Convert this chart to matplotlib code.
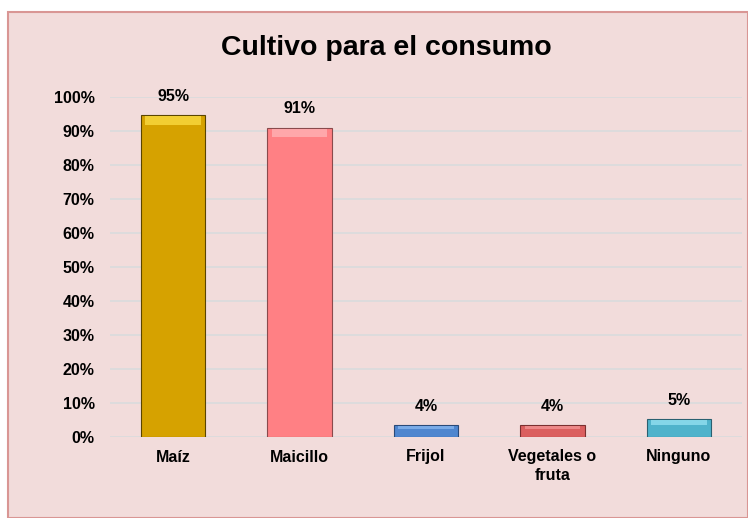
import matplotlib.pyplot as plt
import matplotlib.patches as mpatches
from matplotlib.ticker import FuncFormatter

categories = ["Maíz", "Maicillo", "Frijol", "Vegetales o\nfruta", "Ninguno"]
values = [94.6, 91.0, 3.6, 3.6, 5.4]
labels = ["95%", "91%", "4%", "4%", "5%"]
colors = ["#D6A200", "#FF8084", "#4F86CF", "#DB5F5F", "#4FB3CB"]
highlights = ["#FFE24A", "#FFB8BB", "#8DBBF2", "#F59A9A", "#9CE6F5"]
edges = ["#5A4500", "#8A4A4C", "#2A4A78", "#7A3030", "#2A6070"]

plt.rcParams['font.family'] = ['Liberation Sans', 'DejaVu Sans']

fig = plt.figure(figsize=(7.48, 5.18), dpi=100)
fig.patch.set_facecolor("white")
bg = mpatches.Rectangle((8 / 748, 0), 1 - 8 / 748, 1 - 12 / 518, transform=fig.transFigure,
                        facecolor="#F2DCDB", edgecolor="#D99694", linewidth=1.5, zorder=-5)
fig.patches.append(bg)

ax = fig.add_axes([110 / 748, 1 - 437 / 518, 632 / 748, 340 / 518])
ax.set_facecolor("none")

x = range(len(categories))
ax.bar(x, values, width=0.51, color=colors, edgecolor=edges, linewidth=0.8, zorder=3)
# bevel highlight near the top of each bar
cap = [min(v * 0.3, 2.4) for v in values]
ax.bar(x, cap, bottom=[v - c - 0.3 for v, c in zip(values, cap)], width=0.44,
       color=highlights, linewidth=0, alpha=0.7, zorder=4)

for i, (v, lab) in enumerate(zip(values, labels)):
    ax.annotate(lab, (i, v), xytext=(0, 8), textcoords="offset points",
                ha="center", va="bottom", fontsize=11.5, fontweight="bold")

ax.set_ylim(0, 100)
ax.set_xlim(-0.5, len(categories) - 0.5)
ax.set_yticks(range(0, 101, 10))
ax.yaxis.set_major_formatter(FuncFormatter(lambda v, p: f"{int(v)}%"))
ax.set_xticks(list(x))
ax.set_xticklabels(categories, fontsize=11.5, fontweight="bold", linespacing=1.25)
for t in ax.get_yticklabels():
    t.set_fontweight("bold")
    t.set_fontsize(11.5)
ax.tick_params(axis="both", length=0)
ax.tick_params(axis="y", pad=11)
ax.tick_params(axis="x", pad=9)
ax.grid(axis="y", color="#D9DBDD", linewidth=1.2, zorder=0)
for s in ax.spines.values():
    s.set_visible(False)

fig.text(386 / 748, 1 - 48 / 518, "Cultivo para el consumo", ha="center", va="center",
         fontsize=20.5, fontweight="bold")

fig.savefig("out.png", dpi=100)
